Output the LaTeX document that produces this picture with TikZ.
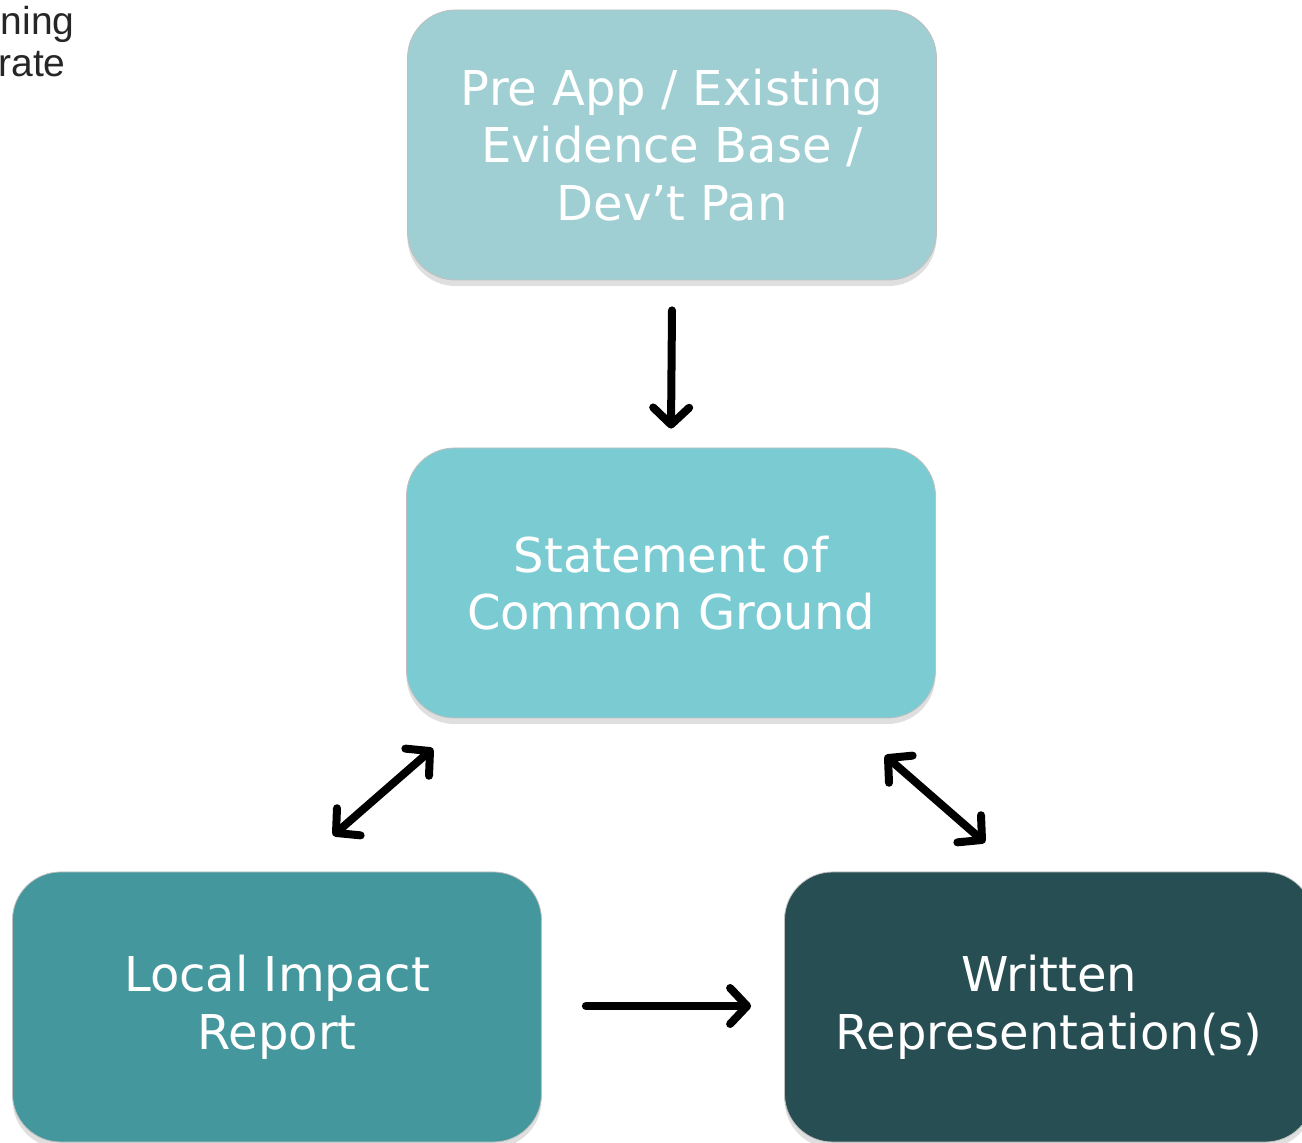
\documentclass[tikz,border=0pt]{standalone}
\usepackage{fontspec}
\setmainfont{DejaVu Sans}
\newfontfamily\headfont{Liberation Sans}
\usetikzlibrary{arrows.meta, shadows}
\definecolor{prebox}{RGB}{160,207,211}
\definecolor{scgbox}{RGB}{123,203,211}
\definecolor{lirbox}{RGB}{67,151,157}
\definecolor{wrbox}{RGB}{38,78,83}
\tikzstyle{stagebox} = [rounded corners=24pt, minimum width=264.5pt, minimum height=135pt, text=white, align=center, font=\fontsize{24}{28.8}\selectfont, draw=black!25, line width=0.4pt, drop shadow={shadow xshift=0pt, shadow yshift=-3pt, opacity=0.25}]
\tikzstyle{arrow} = [line width=4pt, line cap=round, -{Straight Barb[round, length=8.5pt, width=18pt]}]
\tikzstyle{dblarrow} = [line width=4pt, line cap=round, {Straight Barb[round, length=8.5pt, width=18pt]}-{Straight Barb[round, length=8.5pt, width=18pt]}]

\begin{document}
\begin{tikzpicture}[x=0.5pt, y=-0.5pt]
        \useasboundingbox (0,0) rectangle (1302,1143);
        \clip (0,0) rectangle (1302,1143);

        % Cropped heading
        \node[anchor=base east, inner sep=0pt, font=\headfont\fontsize{19.5}{21}\selectfont, text=black!85] (hdA) at (75,35) {ning};
        \node[anchor=base east, inner sep=0pt, font=\headfont\fontsize{19.5}{21}\selectfont, text=black!85] (hdB) at (66,77) {rate};

        % Node positions
        \node[stagebox, fill=prebox] (pre) at (672,145) {Pre App / Existing\\Evidence Base /\\Dev’t Pan};
        \node[stagebox, fill=scgbox] (scg) at (671,583) {Statement of\\Common Ground};
        \node[stagebox, fill=lirbox] (lir) at (277,1007) {Local Impact\\Report};
        \node[stagebox, fill=wrbox] (wr) at (1049,1007) {Written\\Representation(s)};

        \draw[arrow] ([yshift=-15pt]pre.south) -- ([yshift=9.5pt]scg.north);
        \draw[dblarrow] ([xshift=-119pt,yshift=-15pt]scg.south) -- ([xshift=28pt,yshift=18pt]lir.north);
        \draw[dblarrow] ([xshift=107pt,yshift=-18.5pt]scg.south) -- ([xshift=-32pt,yshift=14.5pt]wr.north);
        \draw[arrow] ([xshift=22pt,yshift=0.5pt]lir.east) -- ([xshift=-16.5pt,yshift=0.5pt]wr.west);

      \end{tikzpicture}
\end{document}
